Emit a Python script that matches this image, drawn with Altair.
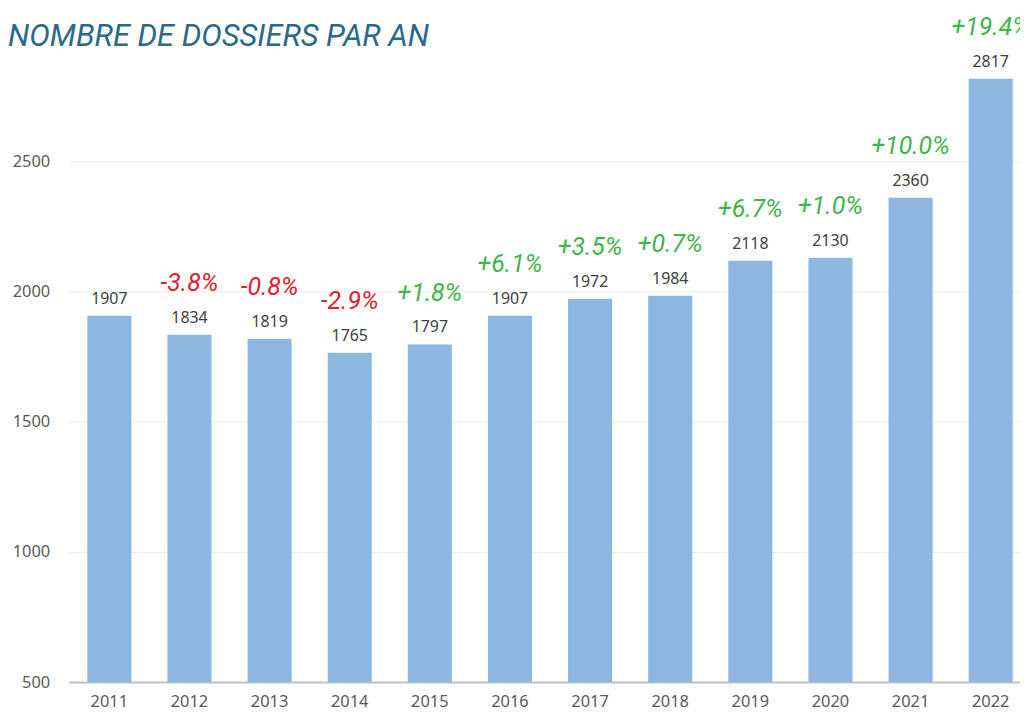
import altair as alt
import pandas as pd

TITRE = "NOMBRE DE DOSSIERS PAR AN"
annees = ["2011", "2012", "2013", "2014", "2015", "2016",
          "2017", "2018", "2019", "2020", "2021", "2022"]
dossiers = [1907, 1834, 1819, 1765, 1797, 1907, 1972, 1984, 2118, 2130, 2360, 2817]
variations = ["", "-3.8%", "-0.8%", "-2.9%", "+1.8%", "+6.1%",
              "+3.5%", "+0.7%", "+6.7%", "+1.0%", "+10.0%", "+19.4%"]
y_ticks = [500, 1000, 1500, 2000, 2500]

df = pd.DataFrame({"annee": annees, "dossiers": dossiers, "pct": variations})
df["signe"] = ["aucun" if p == "" else ("baisse" if p.startswith("-") else "hausse")
               for p in variations]

x = alt.X("annee:N", sort=annees,
          scale=alt.Scale(paddingInner=0.45, paddingOuter=0.162, align=0.72),
          axis=alt.Axis(title=None, labelAngle=0, ticks=False, grid=False,
                        domainColor="#BFBFBF", domainWidth=2,
                        labelFont="Noto Sans", labelFontSize=16.5,
                        labelColor="#595959", labelPadding=12))
y = alt.Y("dossiers:Q",
          scale=alt.Scale(domain=[500, 3081], nice=False, zero=False),
          axis=alt.Axis(title=None, values=y_ticks, format="d", domain=False,
                        ticks=False, grid=True, gridColor="#EBEBEB", gridWidth=1,
                        labelFont="Noto Sans", labelFontSize=16.5,
                        labelColor="#595959", labelPadding=19))

base = alt.Chart(df)

bars = base.mark_bar(color="#8DB7E1").encode(x=x, y=y, y2=alt.datum(500))

valeurs = base.mark_text(baseline="alphabetic", dy=-12, font="Noto Sans",
                         fontSize=16, color="#404040").encode(
    x=x, y=y, text="dossiers:Q")

pcts = base.transform_filter(alt.datum.pct != "").mark_text(
    baseline="alphabetic", dy=-44, font="Roboto", fontStyle="italic",
    fontSize=25).encode(
    x=x, y=y, text="pct:N",
    color=alt.Color("signe:N",
                    scale=alt.Scale(domain=["baisse", "hausse"],
                                    range=["#E0202F", "#3DB54A"]),
                    legend=None))

titre = alt.Chart(pd.DataFrame({"titre": [TITRE]})).mark_text(
    align="left", baseline="alphabetic", font="Roboto", fontStyle="italic",
    fontSize=31, color="#2A6A89").encode(
    x=alt.value(-61), y=alt.value(36), text="titre:N")

chart = alt.layer(bars, valeurs, pcts, titre).properties(
    width=957, height=676,
    autosize=alt.AutoSizeParams(type="none"),
    padding={"left": 61, "top": 0, "right": 0, "bottom": 34},
).configure_view(stroke=None)

chart.save("out.html", embed_options={"renderer": "svg", "actions": False})
